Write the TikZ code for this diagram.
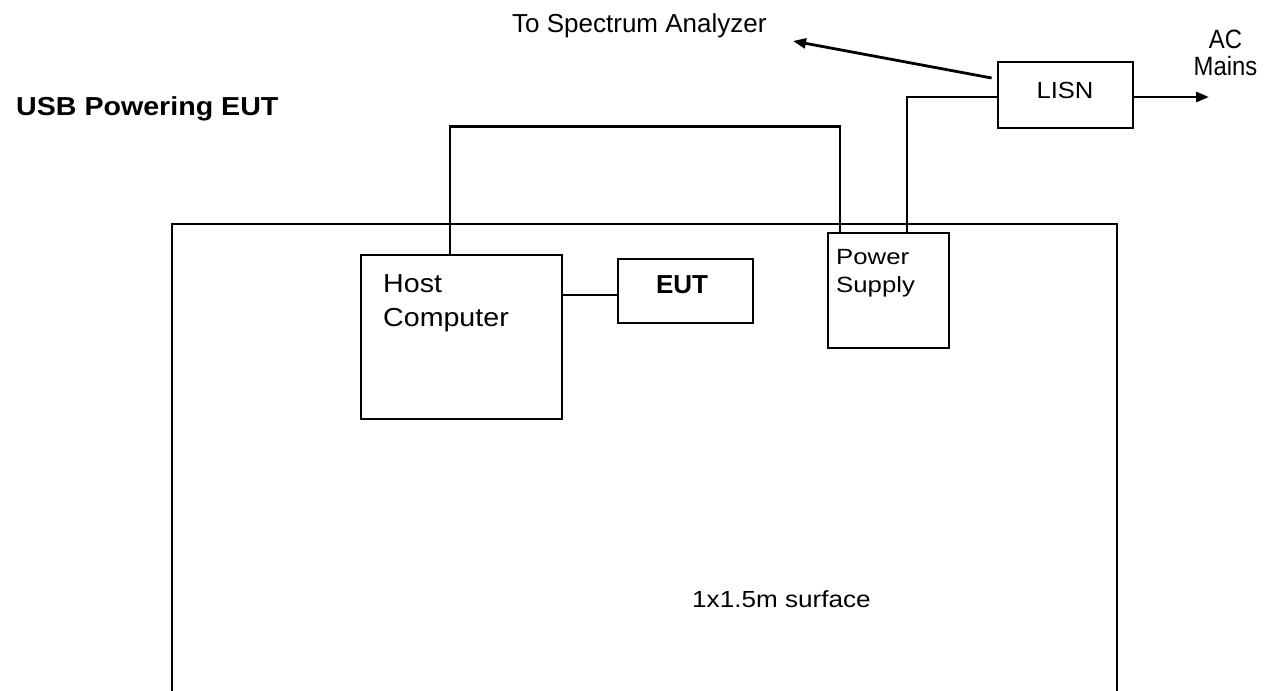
\documentclass[tikz,border=0pt]{standalone}
\usepackage{fontspec}
\setmainfont{Liberation Sans}
\usetikzlibrary{arrows.meta}
\tikzset{
  box/.style={draw, line width=2.8pt, inner sep=0pt},
  wire/.style={line width=2.8pt},
  arr/.style={wire, -{Triangle[length=13pt,width=10pt]}},
  lbl/.style={inner sep=0pt, align=left},
}
\newcommand{\myfs}[2]{\fontsize{#1}{#2}\selectfont}
\begin{document}
\begin{tikzpicture}[x=1pt,y=-1pt]
\useasboundingbox[fill=white] (0,0) rectangle (1267,691);
% surface
\draw[wire] (172,692) -- (172,224) -- (1117,224) -- (1117,692);
\node[lbl, anchor=base west, xscale=1.12, font=\myfs{23.3}{27}] (surf) at (692,607) {1x1.5m surface};
% title
\node[lbl, anchor=base west, xscale=1.1, font=\bfseries\myfs{26}{30}] (title) at (16,115) {USB Powering EUT};
% boxes
\node[box, minimum width=201pt, minimum height=164pt] (host) at (461.5,337) {};
\node[box, minimum width=135pt, minimum height=64pt] (eut) at (685.5,291) {};
\node[box, minimum width=121pt, minimum height=115pt] (ps) at (888.5,290.5) {};
\node[box, minimum width=135pt, minimum height=66pt] (lisn) at (1065.5,95) {};
% box texts
\node[lbl, anchor=north west, xscale=1.1, font=\myfs{26}{34}] (hostt) at (383,274.4) {Host\\Computer};
\node[lbl, anchor=base, font=\bfseries\myfs{26}{30}] (eutt) at (682,293) {EUT};
\node[lbl, anchor=north west, xscale=1.17, font=\myfs{22}{28}] (pst) at (836,249.2) {Power\\Supply};
\node[lbl, anchor=base, xscale=1.1, font=\myfs{23.3}{28}] (lisnt) at (1065,98) {LISN};
% outside labels
\node[lbl, anchor=base west, font=\myfs{26}{30}] (spec) at (512,32) {To Spectrum Analyzer};
\node[lbl, anchor=north, align=center, xscale=0.9, font=\myfs{26.5}{27}] (mains) at (1225.5,30) {AC\\Mains};
% connectors
\draw[wire] ([xshift=-11.5pt]host.north) -- ++(0,-127) -| ([xshift=-48.5pt]ps.north);
\draw[wire] ([xshift=18.5pt]ps.north) |- ([yshift=-2pt]lisn.west);
\draw[wire] ([yshift=-4pt]eut.west) -- ([yshift=-4pt]eut.west -| host.east);
\coordinate (sa) at (793,41);
\coordinate (ac) at (1209,97);
\draw[arr] ([xshift=-5pt,yshift=17pt]lisn.west) -- (sa);
\draw[arr] ([yshift=-2pt]lisn.east) -- (ac);
\end{tikzpicture}
\end{document}
